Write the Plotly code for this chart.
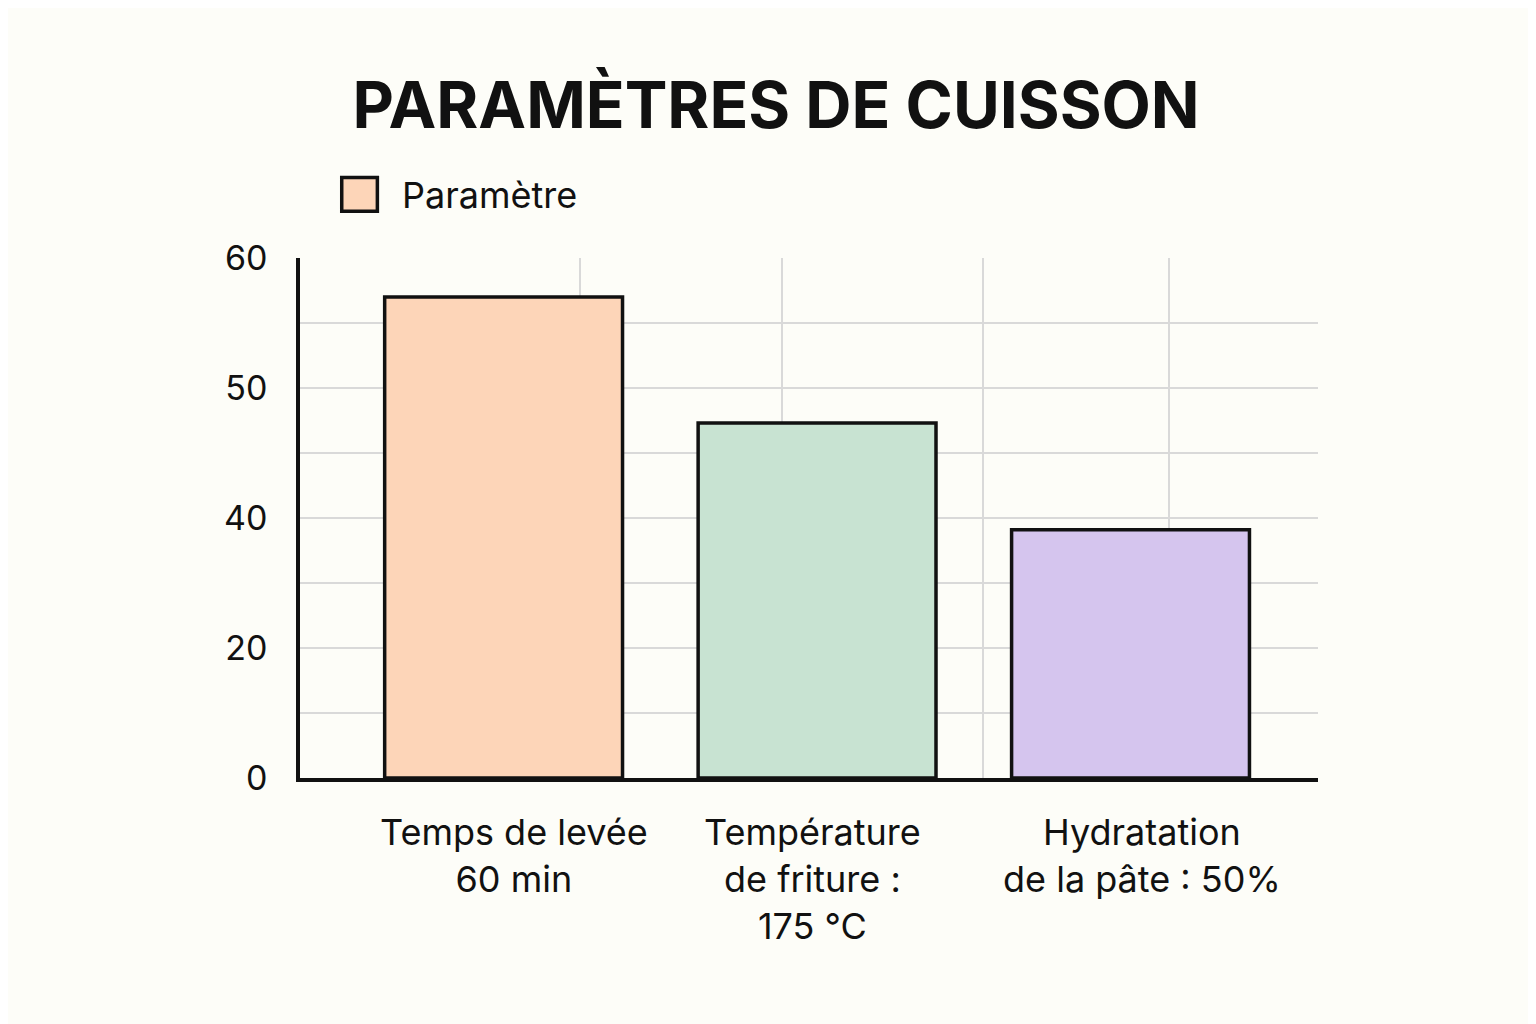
import numpy as np
import plotly.graph_objects as go

categories = ["Temps de levée<br>60 min", "Température<br>de friture :<br>175 °C", "Hydratation<br>de la pâte : 50%"]
values = [57, 47.3, 38.2]
colors = ["#FDD5B8", "#C8E3D2", "#D5C5EE"]
tick_labels = ["0", "20", "40", "50", "60"]
tick_values = [0, 20, 40, 50, 60]
legend_name = "Paramètre"

# the y axis is drawn with evenly spaced labels 0,20,40,50,60
tick_pos = list(range(len(tick_values)))
ypos = np.interp(values, tick_values, tick_pos)

xc = [202, 513, 824]
label_x = [212, 508, 835]

fig = go.Figure()
fig.add_bar(x=xc, y=ypos, width=236, marker=dict(color=colors, line=dict(color="#111", width=3.5)),
            showlegend=False)

for x, t in zip(label_x, categories):
    fig.add_annotation(x=x, y=0, yref="y", text=t, showarrow=False, yshift=-30, yanchor="top",
                       font=dict(size=36, color="#111"))

# legend drawn by hand so the swatch is large
fig.add_shape(type="rect", xref="paper", yref="paper", x0=0.041, x1=0.076, y0=1.09, y1=1.155,
              fillcolor=colors[0], line=dict(color="#111", width=3.5))
fig.add_annotation(xref="paper", yref="paper", x=0.098, y=1.122, text=legend_name, showarrow=False,
                   xanchor="left", yanchor="middle", font=dict(size=36, color="#111"))

fig.update_layout(
    width=1536, height=1024,
    paper_bgcolor="#FDFDF8", plot_bgcolor="#FDFDF8",
    font=dict(family="Inter, Noto Sans, sans-serif", color="#111"),
    title=dict(text="<b>PARAMÈTRES DE CUISSON</b>", x=0.5, xanchor="center", y=0.905, yanchor="middle",
               font=dict(size=64, color="#111")),
    margin=dict(l=292, r=226, t=250, b=254),
    showlegend=False,
    xaxis=dict(range=[0, 1010], tickvals=[278, 478, 678, 862], showticklabels=False,
               showgrid=True, gridcolor="#D9D9D9", gridwidth=2, zeroline=False,
               showline=True, linecolor="#111", linewidth=3.5),
    yaxis=dict(range=[0, 4], tickvals=tick_pos, ticktext=tick_labels, tickfont=dict(size=34),
               showgrid=True, gridcolor="#D9D9D9", gridwidth=2, zeroline=False,
               showline=True, linecolor="#111", linewidth=3.5, ticks="", ticklabelstandoff=22,
               minor=dict(dtick=0.5, showgrid=True, gridcolor="#D9D9D9", gridwidth=2)),
)
fig.write_html("out.html")
